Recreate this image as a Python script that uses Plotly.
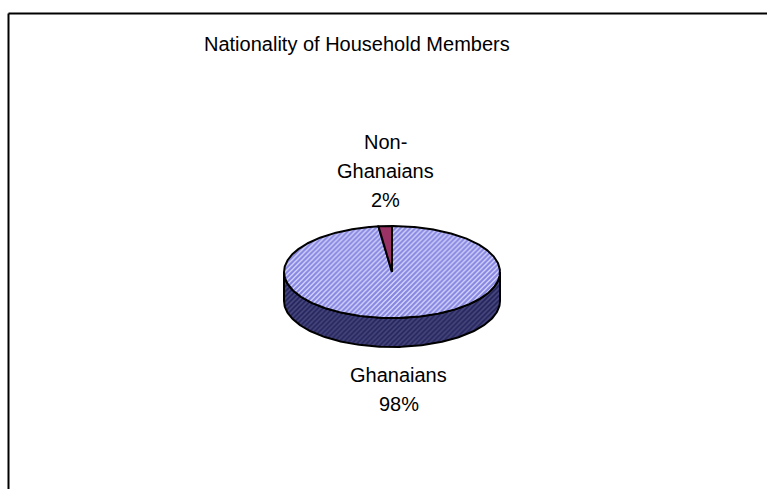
import numpy as np
import plotly.graph_objects as go

# Chart data
categories = ["Ghanaians", "Non-Ghanaians"]
label_lines = [["Ghanaians"], ["Non-", "Ghanaians"]]
shares = [98, 2]
title_text = "Nationality of Household Members"

# Page and tilted-pie geometry (pixel space, y grows downward)
W, H = 767, 489
cx, cy = 392, 272
rx, ry = 108, 46
depth = 29

top_styles = [
    dict(fillpattern=dict(shape="/", fgcolor="#3030c4", bgcolor="#dedeff", size=3.5, solidity=0.65)),
    dict(fillcolor="#993366"),
]
side_pattern = dict(shape="/", fgcolor="#6c6ca0", bgcolor="#26265e", size=3.5, solidity=0.45)
edge = dict(color="#000000", width=2)
font_family = "Arial, Liberation Sans, sans-serif"
label_size = 20
line_gap = 29


def rim(theta_deg):
    t = np.radians(theta_deg)
    return cx + rx * np.sin(t), cy - ry * np.cos(t)


fig = go.Figure()

# Slices run clockwise from 12 o'clock
bounds = np.concatenate([[0], np.cumsum(shares)]) / sum(shares) * 360.0

# Visible front wall: slice segments between 90 and 270 degrees
for i, cat in enumerate(categories):
    a0, a1 = max(bounds[i], 90.0), min(bounds[i + 1], 270.0)
    if a1 <= a0:
        continue
    th = np.linspace(a0, a1, 200)
    xs, ys = rim(th)
    px = np.concatenate([xs, xs[::-1], xs[:1]])
    py = np.concatenate([ys, ys[::-1] + depth, ys[:1]])
    fig.add_trace(go.Scatter(x=px, y=py, mode="lines", fill="toself",
                             fillpattern=side_pattern, line=edge,
                             hoverinfo="skip", showlegend=False))

# Top face wedges
for i, cat in enumerate(categories):
    th = np.linspace(bounds[i], bounds[i + 1], max(8, int((bounds[i + 1] - bounds[i]) * 2)))
    xs, ys = rim(th)
    px = np.concatenate([[cx], xs, [cx]])
    py = np.concatenate([[cy], ys, [cy]])
    fig.add_trace(go.Scatter(x=px, y=py, mode="lines", fill="toself",
                             line=edge, hoverinfo="skip", showlegend=False,
                             name=cat, **top_styles[i]))

# Category labels stacked outside each slice's mid angle
annotations = []
for i, cat in enumerate(categories):
    mid = (bounds[i] + bounds[i + 1]) / 2
    x, y = rim(mid)
    lines = label_lines[i] + [f"{shares[i]}%"]
    front = np.cos(np.radians(mid)) < 0
    if front:
        ys_lines = [y + depth + 28 + j * line_gap for j in range(len(lines))]
    else:
        n = len(lines)
        ys_lines = [y - 26 - (n - 1 - j) * line_gap for j in range(n)]
    for txt, yl in zip(lines, ys_lines):
        annotations.append(dict(
            x=x, y=yl, xref="x", yref="y", text=txt, showarrow=False,
            xanchor="center", yanchor="middle",
            font=dict(family=font_family, size=label_size, color="#000000"),
        ))

annotations.append(dict(
    x=357, y=44, xref="x", yref="y", text=title_text, showarrow=False,
    xanchor="center", yanchor="middle",
    font=dict(family=font_family, size=20, color="#000000"),
))

# Chart-area frame (left and top edges)
shapes = [
    dict(type="line", x0=8.5, x1=8.5, y0=13.5, y1=H, xref="x", yref="y",
         line=dict(color="#000000", width=2)),
    dict(type="line", x0=8.5, x1=W, y0=13.5, y1=13.5, xref="x", yref="y",
         line=dict(color="#000000", width=2)),
]

fig.update_layout(
    width=W, height=H,
    margin=dict(l=0, r=0, t=0, b=0),
    paper_bgcolor="#ffffff", plot_bgcolor="#ffffff",
    xaxis=dict(range=[0, W], visible=False, fixedrange=True),
    yaxis=dict(range=[H, 0], visible=False, fixedrange=True),
    annotations=annotations, shapes=shapes, showlegend=False,
)

fig.write_html("out.html")
